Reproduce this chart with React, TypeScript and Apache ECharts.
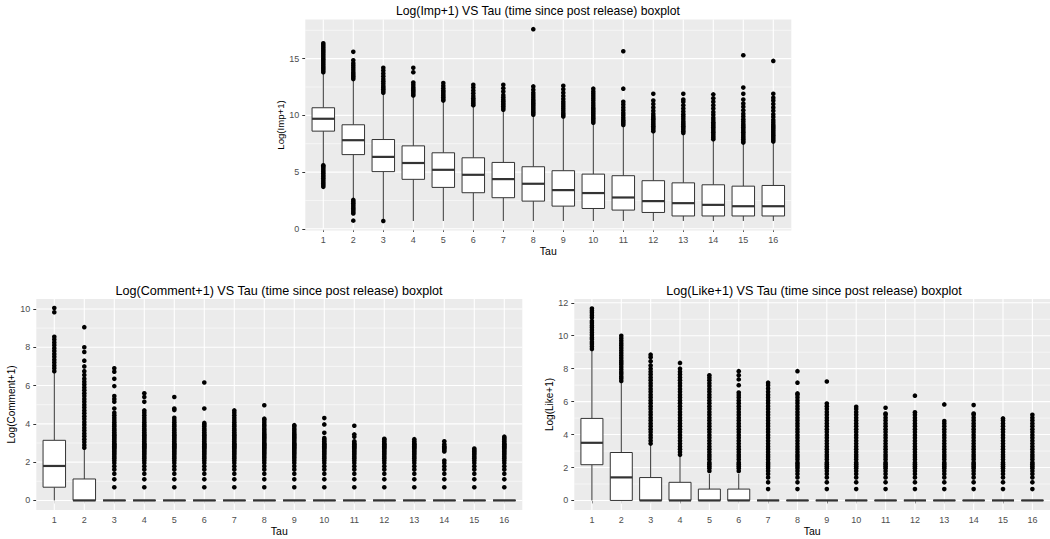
import React, { useEffect, useRef } from "react";
import * as echarts from "echarts";

// ---------- data ----------
const TAU = [1, 2, 3, 4, 5, 6, 7, 8, 9, 10, 11, 12, 13, 14, 15, 16];

// [lower whisker, Q1, median, Q3, upper whisker]
const IMP_STATS = [
  [5.75, 8.61, 9.7, 10.67, 13.7],
  [2.65, 6.54, 7.81, 9.17, 13.1],
  [0.69, 5.04, 6.34, 7.87, 11.9],
  [0.69, 4.36, 5.8, 7.31, 11.65],
  [0.69, 3.65, 5.2, 6.7, 11.2],
  [0.69, 3.18, 4.76, 6.26, 10.76],
  [0.69, 2.74, 4.38, 5.85, 10.4],
  [0.69, 2.44, 3.97, 5.47, 9.95],
  [0.69, 2.0, 3.41, 5.12, 9.8],
  [0.69, 1.79, 3.15, 4.82, 9.24],
  [0.69, 1.65, 2.76, 4.68, 9.06],
  [0.69, 1.44, 2.44, 4.24, 8.5],
  [0.69, 1.13, 2.26, 4.05, 8.33],
  [0.69, 1.13, 2.11, 3.88, 7.82],
  [0.69, 1.13, 1.99, 3.76, 7.53],
  [0.69, 1.13, 1.99, 3.82, 7.6],
];

const IMP_OUTLIERS = [
  [3.7, 3.85, 4.0, 4.15, 4.3, 4.45, 4.6, 4.75, 4.9, 5.05, 5.2, 5.35, 5.5, 5.6, 13.8, 13.95, 14.1, 14.25, 14.4, 14.55, 14.7, 14.85, 15.0, 15.15, 15.3, 15.45, 15.6, 15.75, 15.9, 16.05, 16.2, 16.35],
  [0.72, 1.35, 1.5, 1.65, 1.8, 1.95, 2.1, 2.25, 2.4, 2.55, 13.2, 13.35, 13.5, 13.65, 13.8, 14.0, 14.2, 14.4, 14.6, 14.85, 15.6],
  [0.69, 12.0, 12.15, 12.3, 12.45, 12.6, 12.8, 13.0, 13.2, 13.45, 13.7, 13.95, 14.2],
  [11.75, 11.9, 12.05, 12.2, 12.35, 12.5, 12.7, 12.9, 13.8, 14.2],
  [11.3, 11.45, 11.6, 11.75, 11.9, 12.05, 12.2, 12.4, 12.6, 12.85],
  [10.9, 11.05, 11.2, 11.35, 11.5, 11.7, 11.95, 12.2, 12.45, 12.7],
  [10.5, 10.65, 10.8, 10.95, 11.1, 11.25, 11.4, 11.6, 11.8, 12.1, 12.4, 12.7],
  [10.05, 10.2, 10.35, 10.5, 10.65, 10.8, 10.95, 11.1, 11.25, 11.4, 11.6, 11.8, 12.0, 12.25, 12.55, 17.6],
  [9.9, 10.05, 10.2, 10.4, 10.6, 10.8, 11.0, 11.2, 11.45, 11.7, 12.0, 12.3, 12.6],
  [9.35, 9.5, 9.65, 9.8, 9.95, 10.1, 10.25, 10.4, 10.55, 10.7, 10.9, 11.1, 11.3, 11.5, 11.7, 11.9, 12.1, 12.35],
  [9.15, 9.3, 9.45, 9.6, 9.8, 10.0, 10.2, 10.45, 10.7, 10.95, 11.2, 12.35, 15.65],
  [8.6, 8.75, 8.9, 9.05, 9.2, 9.35, 9.5, 9.65, 9.8, 9.95, 10.15, 10.4, 10.7, 11.0, 11.3, 11.9],
  [8.45, 8.6, 8.75, 8.9, 9.05, 9.2, 9.35, 9.5, 9.7, 9.9, 10.1, 10.35, 10.6, 10.9, 11.2, 11.4, 11.9],
  [7.9, 8.05, 8.2, 8.35, 8.5, 8.65, 8.8, 8.95, 9.1, 9.25, 9.4, 9.6, 9.8, 10.05, 10.3, 10.6, 10.9, 11.2, 11.5, 11.85],
  [7.6, 7.75, 7.9, 8.05, 8.2, 8.35, 8.5, 8.65, 8.8, 8.95, 9.1, 9.25, 9.45, 9.65, 9.9, 10.15, 10.45, 10.75, 11.05, 11.4, 11.9, 12.45, 15.3],
  [7.7, 7.85, 8.0, 8.15, 8.3, 8.45, 8.6, 8.75, 8.9, 9.05, 9.2, 9.4, 9.6, 9.85, 10.1, 10.4, 10.7, 11.0, 11.3, 11.55, 11.9, 14.8],
];

const COMMENT_STATS = [
  [0, 0.69, 1.8, 3.14, 6.67],
  [0, 0, 0, 1.12, 2.67],
  [0, 0, 0, 0, 0],
  [0, 0, 0, 0, 0],
  [0, 0, 0, 0, 0],
  [0, 0, 0, 0, 0],
  [0, 0, 0, 0, 0],
  [0, 0, 0, 0, 0],
  [0, 0, 0, 0, 0],
  [0, 0, 0, 0, 0],
  [0, 0, 0, 0, 0],
  [0, 0, 0, 0, 0],
  [0, 0, 0, 0, 0],
  [0, 0, 0, 0, 0],
  [0, 0, 0, 0, 0],
  [0, 0, 0, 0, 0],
];

const COMMENT_OUTLIERS = [
  [6.75, 6.9, 7.05, 7.2, 7.35, 7.5, 7.65, 7.8, 7.95, 8.1, 8.25, 8.4, 8.55, 9.83, 10.05],
  [2.75, 2.9, 3.05, 3.2, 3.35, 3.5, 3.65, 3.8, 3.95, 4.1, 4.25, 4.4, 4.55, 4.7, 4.85, 5.0, 5.15, 5.3, 5.45, 5.6, 5.75, 5.9, 6.05, 6.2, 6.35, 6.55, 6.75, 7.0, 7.3, 7.75, 8.0, 9.05],
  [0.69, 1.1, 1.39, 1.61, 1.79, 1.95, 2.08, 2.2, 2.3, 2.4, 2.48, 2.56, 2.64, 2.71, 2.77, 2.83, 2.89, 2.94, 3.0, 3.09, 3.18, 3.26, 3.33, 3.4, 3.47, 3.56, 3.66, 3.76, 3.87, 3.97, 4.08, 4.2, 4.32, 4.45, 4.58, 4.8, 5.15, 5.3, 5.45, 5.97, 6.35, 6.72, 6.9],
  [0.69, 1.1, 1.39, 1.61, 1.79, 1.95, 2.08, 2.2, 2.3, 2.4, 2.48, 2.56, 2.64, 2.71, 2.77, 2.83, 2.89, 2.94, 3.0, 3.09, 3.18, 3.26, 3.33, 3.4, 3.47, 3.56, 3.66, 3.76, 3.87, 3.97, 4.08, 4.2, 4.32, 4.45, 4.58, 4.7, 5.15, 5.4, 5.6],
  [0.69, 1.1, 1.39, 1.61, 1.79, 1.95, 2.08, 2.2, 2.3, 2.4, 2.48, 2.56, 2.64, 2.71, 2.77, 2.83, 2.89, 2.94, 3.0, 3.09, 3.18, 3.26, 3.33, 3.4, 3.47, 3.56, 3.66, 3.76, 3.87, 3.97, 4.08, 4.2, 4.32, 4.72, 4.8, 5.4],
  [0.69, 1.1, 1.39, 1.61, 1.79, 1.95, 2.08, 2.2, 2.3, 2.4, 2.48, 2.56, 2.64, 2.71, 2.77, 2.83, 2.89, 2.94, 3.0, 3.09, 3.18, 3.26, 3.33, 3.4, 3.47, 3.56, 3.66, 3.76, 3.87, 3.97, 4.05, 4.8, 6.16],
  [0.69, 1.1, 1.39, 1.61, 1.79, 1.95, 2.08, 2.2, 2.3, 2.4, 2.48, 2.56, 2.64, 2.71, 2.77, 2.83, 2.89, 2.94, 3.0, 3.09, 3.18, 3.26, 3.33, 3.4, 3.47, 3.56, 3.66, 3.76, 3.87, 3.97, 4.08, 4.2, 4.32, 4.45, 4.58, 4.7],
  [0.69, 1.1, 1.39, 1.61, 1.79, 1.95, 2.08, 2.2, 2.3, 2.4, 2.48, 2.56, 2.64, 2.71, 2.77, 2.83, 2.89, 2.94, 3.0, 3.09, 3.18, 3.26, 3.33, 3.4, 3.47, 3.56, 3.66, 3.76, 3.87, 3.97, 4.08, 4.2, 4.27, 4.97],
  [0.69, 1.1, 1.39, 1.61, 1.79, 1.95, 2.08, 2.2, 2.3, 2.4, 2.48, 2.56, 2.64, 2.71, 2.77, 2.83, 2.89, 2.94, 3.0, 3.09, 3.18, 3.26, 3.33, 3.4, 3.47, 3.56, 3.66, 3.76, 3.87, 3.93],
  [0.69, 1.1, 1.39, 1.61, 1.79, 1.95, 2.08, 2.2, 2.3, 2.4, 2.48, 2.56, 2.64, 2.71, 2.77, 2.83, 2.89, 2.94, 3.0, 3.09, 3.18, 3.26, 3.53, 3.97, 4.3],
  [0.69, 1.1, 1.39, 1.61, 1.79, 1.95, 2.08, 2.2, 2.3, 2.4, 2.48, 2.56, 2.64, 2.71, 2.77, 2.83, 2.89, 2.94, 3.0, 3.09, 3.33, 3.45, 3.9],
  [0.69, 1.1, 1.39, 1.61, 1.79, 1.95, 2.08, 2.2, 2.3, 2.4, 2.48, 2.56, 2.64, 2.71, 2.77, 2.83, 2.89, 2.94, 3.0, 3.09, 3.18, 3.22],
  [0.69, 1.1, 1.39, 1.61, 1.79, 1.95, 2.08, 2.2, 2.3, 2.4, 2.48, 2.56, 2.64, 2.71, 2.77, 2.83, 2.89, 2.94, 3.0, 3.09, 3.2],
  [0.69, 1.1, 1.39, 1.61, 1.79, 1.95, 2.08, 2.56, 2.64, 2.71, 2.77, 2.83, 2.94, 3.09],
  [0.69, 1.1, 1.39, 1.61, 1.79, 1.95, 2.08, 2.2, 2.3, 2.4, 2.48, 2.56, 2.64, 2.71],
  [0.69, 1.1, 1.39, 1.61, 1.79, 1.95, 2.08, 2.2, 2.3, 2.4, 2.48, 2.56, 2.64, 2.71, 2.77, 2.83, 2.89, 2.94, 3.0, 3.09, 3.18, 3.26, 3.33],
];

const LIKE_STATS = [
  [0, 2.17, 3.5, 4.98, 9.09],
  [0, 0, 1.4, 2.91, 7.17],
  [0, 0, 0, 1.39, 3.4],
  [0, 0, 0, 1.1, 2.66],
  [0, 0, 0, 0.69, 1.61],
  [0, 0, 0, 0.69, 1.61],
  [0, 0, 0, 0, 0],
  [0, 0, 0, 0, 0],
  [0, 0, 0, 0, 0],
  [0, 0, 0, 0, 0],
  [0, 0, 0, 0, 0],
  [0, 0, 0, 0, 0],
  [0, 0, 0, 0, 0],
  [0, 0, 0, 0, 0],
  [0, 0, 0, 0, 0],
  [0, 0, 0, 0, 0],
];

const LIKE_OUTLIERS = [
  [9.2, 9.35, 9.5, 9.62, 9.78, 9.9, 10.05, 10.2, 10.35, 10.5, 10.62, 10.78, 10.9, 11.1, 11.25, 11.4, 11.52, 11.65],
  [7.25, 7.4, 7.52, 7.68, 7.8, 7.95, 8.1, 8.25, 8.38, 8.5, 8.65, 8.8, 8.95, 9.1, 9.25, 9.4, 9.55, 9.7, 9.85, 10.0],
  [3.45, 3.62, 3.8, 3.97, 4.15, 4.32, 4.5, 4.67, 4.85, 5.02, 5.2, 5.37, 5.55, 5.72, 5.9, 6.07, 6.25, 6.42, 6.6, 6.77, 6.95, 7.12, 7.3, 7.47, 7.65, 7.82, 8.0, 8.2, 8.45, 8.7, 8.85],
  [2.77, 2.94, 3.11, 3.28, 3.45, 3.62, 3.8, 3.97, 4.15, 4.32, 4.5, 4.67, 4.85, 5.02, 5.2, 5.37, 5.55, 5.72, 5.9, 6.07, 6.25, 6.42, 6.6, 6.77, 6.95, 7.12, 7.3, 7.47, 7.65, 7.82, 8.0, 8.35],
  [1.79, 1.95, 2.08, 2.2, 2.3, 2.48, 2.64, 2.77, 2.94, 3.11, 3.28, 3.45, 3.62, 3.8, 3.97, 4.15, 4.32, 4.5, 4.67, 4.85, 5.02, 5.2, 5.37, 5.55, 5.72, 5.9, 6.07, 6.25, 6.42, 6.6, 6.77, 6.95, 7.12, 7.3, 7.45, 7.6],
  [1.79, 1.95, 2.08, 2.2, 2.3, 2.48, 2.64, 2.77, 2.94, 3.11, 3.28, 3.45, 3.62, 3.8, 3.97, 4.15, 4.32, 4.5, 4.67, 4.85, 5.02, 5.2, 5.37, 5.55, 5.72, 5.9, 6.07, 6.25, 6.4, 6.55, 7.0, 7.35, 7.6, 7.85],
  [0.69, 1.1, 1.39, 1.61, 1.79, 1.95, 2.08, 2.2, 2.3, 2.48, 2.64, 2.77, 2.94, 3.11, 3.28, 3.45, 3.62, 3.8, 3.97, 4.15, 4.32, 4.5, 4.67, 4.85, 5.02, 5.2, 5.37, 5.55, 5.72, 5.9, 6.07, 6.25, 6.42, 6.6, 6.8, 7.0, 7.15],
  [0.69, 1.1, 1.39, 1.61, 1.79, 1.95, 2.08, 2.2, 2.3, 2.48, 2.64, 2.77, 2.94, 3.11, 3.28, 3.45, 3.62, 3.8, 3.97, 4.15, 4.32, 4.5, 4.67, 4.85, 5.02, 5.2, 5.37, 5.55, 5.72, 5.9, 6.07, 6.25, 6.42, 6.5, 7.15, 7.85],
  [0.69, 1.1, 1.39, 1.61, 1.79, 1.95, 2.08, 2.2, 2.3, 2.48, 2.64, 2.77, 2.94, 3.11, 3.28, 3.45, 3.62, 3.8, 3.97, 4.15, 4.32, 4.5, 4.67, 4.85, 5.02, 5.2, 5.37, 5.55, 5.72, 5.88, 7.22],
  [0.69, 1.1, 1.39, 1.61, 1.79, 1.95, 2.08, 2.2, 2.3, 2.48, 2.64, 2.77, 2.94, 3.11, 3.28, 3.45, 3.62, 3.8, 3.97, 4.15, 4.32, 4.5, 4.67, 4.85, 5.02, 5.2, 5.37, 5.55, 5.69],
  [0.69, 1.1, 1.39, 1.61, 1.79, 1.95, 2.08, 2.2, 2.3, 2.48, 2.64, 2.77, 2.94, 3.11, 3.28, 3.45, 3.62, 3.8, 3.97, 4.15, 4.32, 4.5, 4.67, 4.85, 5.02, 5.2, 5.28, 5.63],
  [0.69, 1.1, 1.39, 1.61, 1.79, 1.95, 2.08, 2.2, 2.3, 2.48, 2.64, 2.77, 2.94, 3.11, 3.28, 3.45, 3.62, 3.8, 3.97, 4.15, 4.32, 4.5, 4.67, 4.85, 5.02, 5.2, 5.35, 6.36],
  [0.69, 1.1, 1.39, 1.61, 1.79, 1.95, 2.08, 2.2, 2.3, 2.48, 2.64, 2.77, 2.94, 3.11, 3.28, 3.45, 3.62, 3.8, 3.97, 4.15, 4.32, 4.5, 4.67, 4.82, 5.83],
  [0.69, 1.1, 1.39, 1.61, 1.79, 1.95, 2.08, 2.2, 2.3, 2.48, 2.64, 2.77, 2.94, 3.11, 3.28, 3.45, 3.62, 3.8, 3.97, 4.15, 4.32, 4.5, 4.67, 4.85, 5.02, 5.2, 5.28, 5.79],
  [0.69, 1.1, 1.39, 1.61, 1.79, 1.95, 2.08, 2.2, 2.3, 2.48, 2.64, 2.77, 2.94, 3.11, 3.28, 3.45, 3.62, 3.8, 3.97, 4.15, 4.32, 4.5, 4.67, 4.85, 4.98],
  [0.69, 1.1, 1.39, 1.61, 1.79, 1.95, 2.08, 2.2, 2.3, 2.48, 2.64, 2.77, 2.94, 3.11, 3.28, 3.45, 3.62, 3.8, 3.97, 4.15, 4.32, 4.5, 4.67, 4.85, 5.02, 5.2],
];

// axis tick values
const IMP_TICKS = [0, 5, 10, 15];
const IMP_MINOR = [2.5, 7.5, 12.5, 17.5];
const COMMENT_TICKS = [0, 2, 4, 6, 8, 10];
const COMMENT_MINOR = [1, 3, 5, 7, 9];
const LIKE_TICKS = [0, 2, 4, 6, 8, 10, 12];
const LIKE_MINOR = [1, 3, 5, 7, 9, 11];

const TITLES = [
  "Log(Imp+1) VS Tau (time since post release) boxplot",
  "Log(Comment+1) VS Tau (time since post release) boxplot",
  "Log(Like+1) VS Tau (time since post release) boxplot",
];
const Y_NAMES = ["Log(Imp+1)", "Log(Comment+1)", "Log(Like+1)"];
const X_NAME = "Tau";

// ---------- layout ----------
const FONT = "'Liberation Sans', Arial, Helvetica, sans-serif";
const PANELS = [
  { left: 305.3, top: 19.5, width: 486, height: 211, ymin: -0.15, ymax: 18.45, ticks: IMP_TICKS, minor: IMP_MINOR, stats: IMP_STATS, out: IMP_OUTLIERS, xGap: 13, yGap: 19, titleX: 538, titleY: 11, titleSize: 12.2, nameSize: 9.6 },
  { left: 36.3, top: 299, width: 486, height: 211, ymin: -0.5, ymax: 10.52, ticks: COMMENT_TICKS, minor: COMMENT_MINOR, stats: COMMENT_STATS, out: COMMENT_OUTLIERS, xGap: 15, yGap: 18, titleX: 279, titleY: 291, titleSize: 12.6, nameSize: 10 },
  { left: 574.3, top: 299, width: 486, height: 211, ymin: -0.58, ymax: 12.23, ticks: LIKE_TICKS, minor: LIKE_MINOR, stats: LIKE_STATS, out: LIKE_OUTLIERS, xGap: 15, yGap: 18, titleX: 814, titleY: 291, titleSize: 12.6, nameSize: 10 },
];

const X_MIN = 0.4;
const X_MAX = 16.6;
const BOX_WIDTH = 0.75;

function buildOption() {
  const grid: any[] = [];
  const xAxis: any[] = [];
  const yAxis: any[] = [];
  const series: any[] = [];
  const graphic: any[] = [];

  PANELS.forEach((p, i) => {
    grid.push({
      left: p.left,
      top: p.top,
      width: p.width,
      height: p.height,
      show: true,
      backgroundColor: "#EBEBEB",
      borderWidth: 0,
      containLabel: false,
    });
    xAxis.push({
      type: "value",
      gridIndex: i,
      min: X_MIN,
      max: X_MAX,
      axisLine: { show: false },
      axisTick: { show: true, customValues: TAU, length: 3, lineStyle: { color: "#333333", width: 1 } },
      axisLabel: { customValues: TAU, fontSize: 9, color: "#4D4D4D", margin: 5, fontFamily: FONT },
      splitLine: { show: false },
      name: X_NAME,
      nameLocation: "middle",
      nameGap: p.xGap,
      nameTextStyle: { fontSize: 10.5, color: "#000", fontFamily: FONT },
    });
    yAxis.push({
      type: "value",
      gridIndex: i,
      min: p.ymin,
      max: p.ymax,
      axisLine: { show: false },
      axisTick: { show: true, customValues: p.ticks, length: 3, lineStyle: { color: "#333333", width: 1 } },
      axisLabel: { customValues: p.ticks, fontSize: 9, color: "#4D4D4D", margin: 6, fontFamily: FONT },
      splitLine: { show: false },
      name: Y_NAMES[i],
      nameLocation: "middle",
      nameRotate: 90,
      nameGap: p.yGap,
      nameTextStyle: { fontSize: p.nameSize, color: "#000", fontFamily: FONT },
    });

    // grid lines (kind 1 = major horizontal, 2 = minor horizontal, 3 = vertical)
    const gridData = [
      ...p.ticks.map((v) => [1, v]),
      ...p.minor.map((v) => [2, v]),
      ...TAU.map((t) => [3, t]),
    ];
    series.push({
      type: "custom",
      xAxisIndex: i,
      yAxisIndex: i,
      z: 1,
      silent: true,
      data: gridData,
      renderItem: (params: any, api: any) => {
        const kind = api.value(0);
        const v = api.value(1);
        const cs = params.coordSys;
        if (kind === 3) {
          const x = api.coord([v, p.ymin])[0];
          return {
            type: "line",
            shape: { x1: x, y1: cs.y, x2: x, y2: cs.y + cs.height },
            style: { stroke: "#FFFFFF", lineWidth: 1.1 },
          };
        }
        const y = api.coord([1, v])[1];
        return {
          type: "line",
          shape: { x1: cs.x, y1: y, x2: cs.x + cs.width, y2: y },
          style: { stroke: "#FFFFFF", lineWidth: kind === 1 ? 1.1 : 0.55 },
        };
      },
    });

    // boxes
    series.push({
      type: "custom",
      xAxisIndex: i,
      yAxisIndex: i,
      z: 3,
      silent: true,
      encode: { x: 0, y: [1, 2, 3, 4, 5] },
      data: p.stats.map((s, k) => [TAU[k], ...s]),
      renderItem: (params: any, api: any) => {
        const x = api.value(0);
        const lo = api.value(1);
        const q1 = api.value(2);
        const med = api.value(3);
        const q3 = api.value(4);
        const hi = api.value(5);
        const left = api.coord([x - BOX_WIDTH / 2, q3]);
        const right = api.coord([x + BOX_WIDTH / 2, q1]);
        const c = api.coord([x, med]);
        const pLo = api.coord([x, lo]);
        const pHi = api.coord([x, hi]);
        const stroke = "#333333";
        return {
          type: "group",
          children: [
            { type: "line", shape: { x1: c[0], y1: pHi[1], x2: c[0], y2: left[1] }, style: { stroke, lineWidth: 1 } },
            { type: "line", shape: { x1: c[0], y1: right[1], x2: c[0], y2: pLo[1] }, style: { stroke, lineWidth: 1 } },
            {
              type: "rect",
              shape: { x: left[0], y: left[1], width: right[0] - left[0], height: right[1] - left[1] },
              style: { fill: "#FFFFFF", stroke, lineWidth: 1 },
            },
            { type: "line", shape: { x1: left[0], y1: c[1], x2: right[0], y2: c[1] }, style: { stroke, lineWidth: 2.2 } },
          ],
        };
      },
    });

    // outliers
    series.push({
      type: "scatter",
      xAxisIndex: i,
      yAxisIndex: i,
      z: 4,
      silent: true,
      progressive: 0,
      symbol: "circle",
      symbolSize: 4.6,
      itemStyle: { color: "#000000", opacity: 1 },
      data: p.out.flatMap((vals, k) => vals.map((v) => [TAU[k], v])),
    });

    graphic.push({
      type: "text",
      x: p.titleX,
      y: p.titleY,
      style: {
        text: TITLES[i],
        fontSize: p.titleSize,
        fontFamily: FONT,
        fill: "#000000",
        textAlign: "center",
        textVerticalAlign: "middle",
        align: "center",
        verticalAlign: "middle",
      },
    });
  });

  return {
    animation: false,
    backgroundColor: "#FFFFFF",
    textStyle: { fontFamily: FONT },
    grid,
    xAxis,
    yAxis,
    series,
    graphic,
  };
}

export default function App() {
  const ref = useRef<HTMLDivElement | null>(null);
  useEffect(() => {
    if (!ref.current) return;
    const chart = echarts.init(ref.current, null, { renderer: "svg" });
    chart.setOption(buildOption());
    return () => chart.dispose();
  }, []);
  return (
    <div
      ref={ref}
      style={{ position: "absolute", left: 0, top: 0, width: 1050, height: 539, background: "#fff" }}
    />
  );
}
